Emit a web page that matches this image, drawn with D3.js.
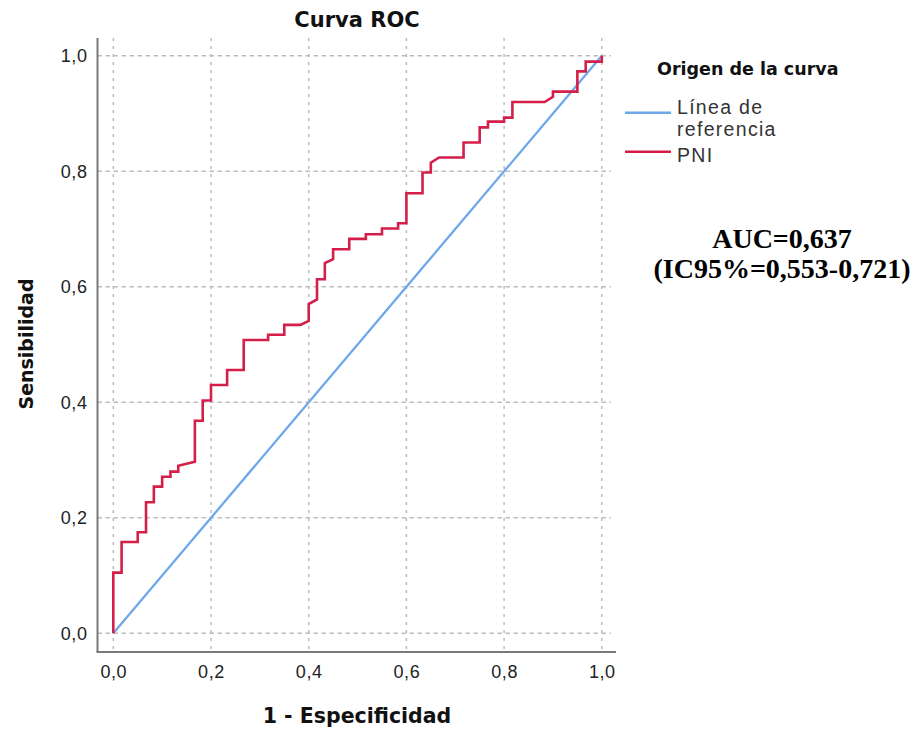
<!DOCTYPE html>
<html>
<head>
<meta charset="utf-8">
<script src="https://cdn.jsdelivr.net/npm/d3@7"></script>
<style>
  body { margin: 0; background: #fff; }
  svg { display: block; }
</style>
</head>
<body>
<svg id="chart" width="918" height="733"></svg>
<script>
// ROC curve for PNI (1 - specificity, sensitivity)
const fpr = [0, 0, 0.017, 0.017, 0.050, 0.050, 0.067, 0.067, 0.083, 0.083, 0.100, 0.100,
  0.117, 0.117, 0.133, 0.133, 0.167, 0.167, 0.183, 0.183, 0.200, 0.200, 0.233, 0.233,
  0.267, 0.267, 0.317, 0.317, 0.350, 0.350, 0.383, 0.400, 0.400, 0.417, 0.417, 0.433,
  0.433, 0.450, 0.450, 0.483, 0.483, 0.517, 0.517, 0.550, 0.550, 0.583, 0.583, 0.600,
  0.600, 0.633, 0.633, 0.650, 0.650, 0.667, 0.717, 0.717, 0.750, 0.750, 0.767, 0.767,
  0.800, 0.800, 0.817, 0.817, 0.883, 0.900, 0.900, 0.950, 0.950, 0.967, 0.967, 1.000, 1.000]
const tpr = [0, 0.105, 0.105, 0.158, 0.158, 0.175, 0.175, 0.227, 0.227, 0.254, 0.254, 0.271,
  0.271, 0.280, 0.280, 0.290, 0.297, 0.368, 0.368, 0.403, 0.403, 0.430, 0.430, 0.456,
  0.456, 0.508, 0.508, 0.517, 0.517, 0.534, 0.534, 0.541, 0.570, 0.578, 0.613, 0.613,
  0.641, 0.648, 0.665, 0.665, 0.683, 0.683, 0.691, 0.691, 0.701, 0.701, 0.710, 0.710,
  0.762, 0.762, 0.798, 0.798, 0.815, 0.824, 0.824, 0.850, 0.850, 0.876, 0.876, 0.886,
  0.886, 0.893, 0.893, 0.920, 0.920, 0.929, 0.938, 0.938, 0.973, 0.973, 0.990, 0.990, 1.000]

// reference (chance) line
const refX = [0, 1]
const refY = [0, 1]

const ticks = [0, 0.2, 0.4, 0.6, 0.8, 1.0]
const legendNames = [["Línea de", "referencia"], ["PNI"]]
const legendColours = ["#6ea8ea", "#d31f49"]
const aucLines = ["AUC=0,637", "(IC95%=0,553-0,721)"]

const svg = d3.select("#chart")

const axisLeftX = 97.5
const axisBottomY = 652
const axisTopY = 38
const axisRightX = 616

const x = d3.scaleLinear().domain([0, 1]).range([113.3, 601.8])
const y = d3.scaleLinear().domain([0, 1]).range([633.3, 55.8])

const es = d3.formatLocale({decimal: ",", thousands: ".", grouping: [3], currency: ["", "€"]})
const fmt = es.format(".1f")

const sans = "'Liberation Sans', Arial, sans-serif"
const bold = "'DejaVu Sans', Verdana, sans-serif"

// gridlines
svg.append("g")
    .selectAll("line")
    .data(ticks)
    .join("line")
    .attr("x1", d => x(d)).attr("x2", d => x(d))
    .attr("y1", axisTopY).attr("y2", axisBottomY + 2)
    .attr("stroke", "#bdbdbd")
    .attr("stroke-width", 1.5)
    .attr("stroke-dasharray", "3,5");

svg.append("g")
    .selectAll("line")
    .data(ticks)
    .join("line")
    .attr("x1", axisLeftX).attr("x2", 611)
    .attr("y1", d => y(d)).attr("y2", d => y(d))
    .attr("stroke", "#bdbdbd")
    .attr("stroke-width", 1.5)
    .attr("stroke-dasharray", "4.5,3.5");

// axes (tick labels only, frame drawn separately)
const xAxis = svg.append("g")
    .attr("transform", `translate(0,${axisBottomY})`)
    .call(d3.axisBottom(x).tickValues(ticks).tickFormat(fmt).tickSize(0).tickPadding(13));
const yAxis = svg.append("g")
    .attr("transform", `translate(${axisLeftX},0)`)
    .call(d3.axisLeft(y).tickValues(ticks).tickFormat(fmt).tickSize(0).tickPadding(10));

[xAxis, yAxis].forEach(g => {
    g.select(".domain").remove()
    g.selectAll("text")
        .attr("font-family", sans)
        .attr("font-size", 18)
        .attr("letter-spacing", 0.6)
        .attr("fill", "#222")
})

svg.append("line")
    .attr("x1", axisLeftX).attr("x2", axisLeftX)
    .attr("y1", axisTopY).attr("y2", axisBottomY)
    .attr("stroke", "#7a7a7a").attr("stroke-width", 2);
svg.append("line")
    .attr("x1", axisLeftX - 1).attr("x2", axisRightX)
    .attr("y1", axisBottomY).attr("y2", axisBottomY)
    .attr("stroke", "#7a7a7a").attr("stroke-width", 2);

// curves
const line = d3.line()
    .x(d => x(d[0]))
    .y(d => y(d[1]));

svg.append("path")
    .datum(d3.zip(refX, refY))
    .attr("d", line)
    .attr("fill", "none")
    .attr("stroke", legendColours[0])
    .attr("stroke-width", 2.3);

svg.append("path")
    .datum(d3.zip(fpr, tpr))
    .attr("d", line)
    .attr("fill", "none")
    .attr("stroke", legendColours[1])
    .attr("stroke-width", 2.6)
    .attr("stroke-linejoin", "miter");

// titles
svg.append("text")
    .attr("x", 357).attr("y", 27)
    .attr("text-anchor", "middle")
    .attr("font-family", bold).attr("font-weight", "bold").attr("font-size", 21)
    .attr("fill", "#111")
    .text("Curva ROC");

svg.append("text")
    .attr("x", 357).attr("y", 723)
    .attr("text-anchor", "middle")
    .attr("font-family", bold).attr("font-weight", "bold").attr("font-size", 20.5)
    .attr("fill", "#111")
    .text("1 - Especificidad");

svg.append("text")
    .attr("transform", "translate(33,344) rotate(-90)")
    .attr("text-anchor", "middle")
    .attr("font-family", bold).attr("font-weight", "bold").attr("font-size", 19)
    .attr("fill", "#111")
    .text("Sensibilidad");

// legend
const legend = svg.append("g")
legend.append("text")
    .attr("x", 657).attr("y", 75)
    .attr("font-family", bold).attr("font-weight", "bold").attr("font-size", 17.5)
    .attr("fill", "#111")
    .text("Origen de la curva");

const itemY = [112.7, 151.7]
legendNames.forEach((parts, i) => {
    legend.append("line")
        .attr("x1", 625).attr("x2", 671)
        .attr("y1", itemY[i]).attr("y2", itemY[i])
        .attr("stroke", legendColours[i]).attr("stroke-width", 2.6);
    parts.forEach((part, j) => {
        legend.append("text")
            .attr("x", 677)
            .attr("y", itemY[i] + (i === 0 ? 1.5 : 10.5) + j * 22)
            .attr("font-family", sans).attr("font-size", 19.5)
            .attr("letter-spacing", 1.3)
            .attr("fill", "#333")
            .text(part)
    })
});

// AUC annotation
aucLines.forEach((s, i) => {
    svg.append("text")
        .attr("x", 782).attr("y", 248 + i * 30)
        .attr("text-anchor", "middle")
        .attr("font-family", "'Liberation Serif', 'Times New Roman', serif")
        .attr("font-weight", "bold").attr("font-size", 28)
        .attr("fill", "#000")
        .text(s);
});
</script>
</body>
</html>
